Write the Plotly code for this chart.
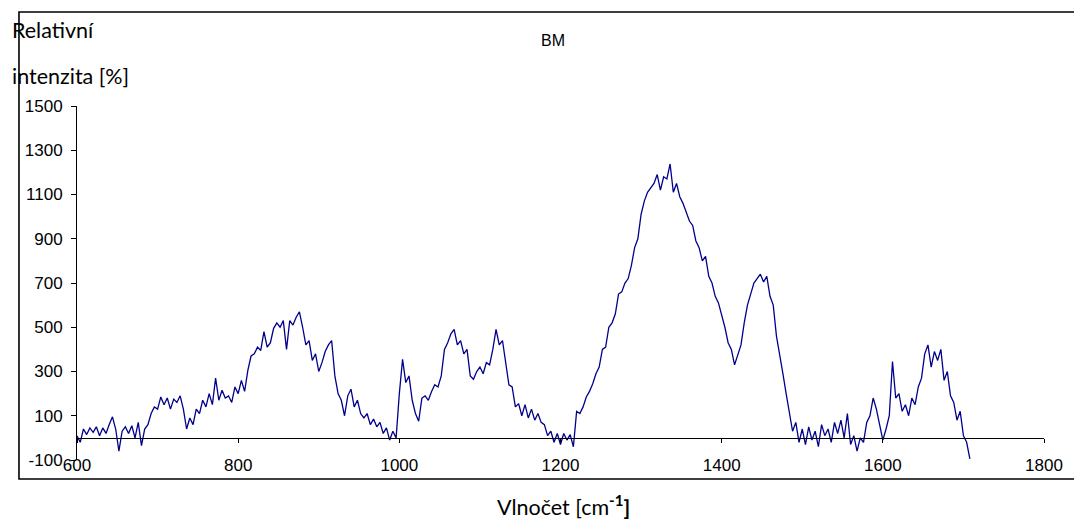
import numpy as np
import plotly.graph_objects as go

# Raman spectrum "BM", sampled every 4 cm-1 starting at 600 cm-1
# one row per 100 cm-1 block
intensity = [
    10, -20, 40, 15, 45, 25, 50, 10, 45, 20, 60, 95, 40, -60, 30, 50, 20, 55, 0, 70, -35, 40, 60, 110, 140,          # 600
    130, 185, 150, 180, 130, 175, 160, 190, 130, 40, 90, 60, 130, 110, 170, 140, 200, 150, 270, 170, 215, 180, 190, 160, 230,  # 700
    200, 260, 210, 305, 370, 380, 410, 395, 480, 410, 430, 495, 520, 500, 530, 400, 530, 510, 545, 570, 500, 420, 440, 350, 380,  # 800
    300, 340, 390, 420, 440, 280, 200, 170, 100, 190, 220, 140, 170, 110, 90, 110, 60, 85, 50, 70, 20, 45, -10, 30, 0,  # 900
    200, 355, 250, 280, 170, 110, 75, 180, 190, 170, 210, 240, 230, 280, 400, 430, 470, 490, 420, 440, 380, 400, 280, 265, 300,  # 1000
    320, 290, 340, 330, 400, 490, 420, 440, 350, 240, 230, 140, 155, 100, 150, 90, 130, 80, 110, 70, 60, 10, 30, -20, 20,  # 1100
    -30, 20, -10, 15, -40, 120, 110, 140, 185, 210, 245, 290, 320, 400, 410, 500, 520, 560, 650, 660, 700, 720, 780, 860, 900,  # 1200
    1010, 1070, 1110, 1130, 1150, 1190, 1120, 1180, 1170, 1238, 1110, 1150, 1090, 1060, 1020, 980, 960, 890, 860, 800, 820, 730, 700, 640, 610,  # 1300
    560, 500, 430, 400, 330, 380, 420, 520, 600, 650, 700, 720, 740, 705, 730, 640, 600, 460, 380, 290, 200, 120, 30, 70, -20,  # 1400
    40, -30, 50, -10, 30, -40, 60, 10, 40, -20, 70, 20, 80, 0, 110, -30, 10, -60, 0, -20, 70, 100, 180, 130, 60,  # 1500
    -10, 40, 100, 345, 180, 200, 120, 150, 100, 180, 150, 230, 270, 380, 420, 320, 390, 350, 400, 260, 300, 190, 160, 80, 120,  # 1600
    10, -20, -95,  # 1700
]
wavenumber = np.arange(600, 600 + 4 * len(intensity), 4)

x_ticks = [600, 800, 1000, 1200, 1400, 1600, 1800]
y_ticks = [-100, 100, 300, 500, 700, 900, 1100, 1300, 1500]
y_tick_labels = ["-100", "100", "300", "500", "700", "900", "1100", "1300", "1500"]

tick_font = dict(family="Liberation Sans, Arial", size=17, color="black")
label_font = dict(family="Lato, Calibri", size=21.5, color="black")

fig = go.Figure()
fig.add_trace(go.Scatter(
    x=wavenumber, y=intensity, mode="lines",
    line=dict(color="#00008B", width=1.3),
    showlegend=False,
))

# page body adds 8px, so the figure is 8px smaller on each side
fig.update_layout(
    width=1074, height=513,
    margin=dict(l=69, r=38, t=98, b=61),
    paper_bgcolor="white", plot_bgcolor="white",
    title=dict(text="BM", x=0.5075, y=0.9376, xref="container", yref="container",
               xanchor="center", yanchor="middle",
               font=dict(family="Liberation Sans, Arial", size=16, color="black")),
)

# x axis crosses at y = 0
fig.update_xaxes(
    range=[600, 1800], tickvals=x_ticks, showgrid=False, zeroline=False,
    showline=True, linecolor="black", linewidth=1,
    ticks="outside", ticklen=4, tickcolor="black",
    anchor="free", position=100 / 1600, ticklabelstandoff=8,
    tickfont=tick_font,
)
fig.update_yaxes(
    range=[-100, 1500], tickvals=y_ticks, ticktext=y_tick_labels,
    showgrid=False, zeroline=False,
    showline=True, linecolor="black", linewidth=1,
    ticks="outside", ticklen=5, tickcolor="black", ticklabelstandoff=5,
    tickfont=tick_font,
)

# outer chart border
fig.add_shape(type="rect", xref="paper", yref="paper",
              x0=-0.06, x1=1.045, y0=-0.0537, y1=1.2655,
              line=dict(color="black", width=1.6), layer="below")

fig.add_annotation(text="Relativní", xref="paper", yref="paper",
                   x=-0.0693, y=1.2147, xanchor="left", yanchor="middle",
                   showarrow=False, font=label_font)
fig.add_annotation(text="intenzita [%]", xref="paper", yref="paper",
                   x=-0.0693, y=1.0847, xanchor="left", yanchor="middle",
                   showarrow=False, font=label_font)
fig.add_annotation(text="Vlnočet [cm<sup><b>-1</b></sup><b>]</b>", xref="paper", yref="paper",
                   x=0.503, y=-0.128, xanchor="center", yanchor="middle",
                   showarrow=False, font=label_font)

fig.write_html("out.html")
